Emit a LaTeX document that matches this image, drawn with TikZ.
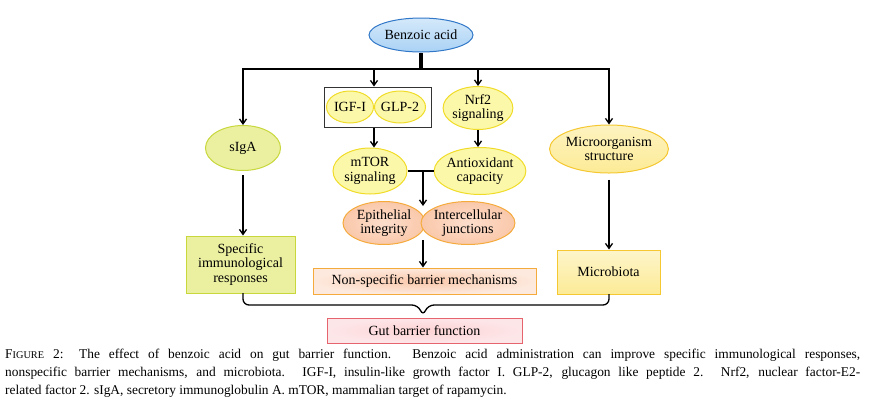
\documentclass[tikz,border=0pt]{standalone}
\usepackage{fontspec}
\setmainfont{Liberation Serif}
\usetikzlibrary{shapes.geometric,arrows.meta,decorations.pathreplacing}
\definecolor{yb}{RGB}{240,220,40}
\definecolor{yf}{RGB}{252,248,170}
\definecolor{gb}{RGB}{200,215,60}
\definecolor{gf}{RGB}{235,240,160}
\definecolor{ob}{RGB}{245,170,60}
\definecolor{of}{RGB}{250,200,170}
\definecolor{mb}{RGB}{245,200,50}
\definecolor{mf}{RGB}{252,235,150}
\definecolor{rb}{RGB}{230,100,110}
\definecolor{rf}{RGB}{250,205,210}
\definecolor{bb}{RGB}{50,120,200}
\definecolor{bf}{RGB}{170,210,245}
\begin{document}
\begin{tikzpicture}[x=1pt,y=-1pt,font=\fontsize{14}{14.5}\selectfont,
 el/.style={ellipse,draw=#1,line width=1pt,inner sep=-1pt,align=center},
 bx/.style={rectangle,draw=#1,line width=1pt,inner sep=0pt,align=center},
 ar/.style={-{Straight Barb[length=5pt,width=7pt]},line width=1.3pt},
 ln/.style={line width=1.3pt}]
\useasboundingbox (0,0) rectangle (879,416);
\node[el=bb,top color=bf!50,bottom color=bf,minimum width=104,minimum height=34] (ba) at (421,35) {Benzoic acid};
\node[el=gb,fill=gf,minimum width=75,minimum height=45] (sig) at (243,148) {sIgA};
\node[draw=black!80,line width=1pt,minimum width=107,minimum height=40,inner sep=0pt] (box) at (377.5,107) {};
\node[el=yb,fill=yf,minimum width=47,minimum height=32] (igf) at (350,107) {IGF-I};
\node[el=yb,fill=yf,minimum width=51,minimum height=32] (glp) at (400,107) {GLP-2};
\node[el=yb,fill=yf,minimum width=69,minimum height=43] (nrf) at (478,108) {Nrf2\\signaling};
\node[el=mb,top color=mf!60,bottom color=mf,minimum width=108,minimum height=48] (mic) at (609,149) {Microorganism\\structure};
\node[el=yb,fill=yf,minimum width=74,minimum height=46] (mtor) at (370,171) {mTOR\\signaling};
\node[el=yb,fill=yf,minimum width=83,minimum height=47] (anti) at (480,171) {Antioxidant\\capacity};
\node[el=ob,inner color=of!60,outer color=of,minimum width=82,minimum height=43] (epi) at (384,223) {Epithelial\\integrity};
\node[el=ob,inner color=of!60,outer color=of,minimum width=92,minimum height=43] (int) at (468,223) {Intercellular\\junctions};
\node[bx=gb,fill=gf,minimum width=109,minimum height=57] (spec) at (240.5,264.5) {Specific\\immunological\\responses};
\node[bx=ob,inner color=of,outer color=of!40,minimum width=223,minimum height=26] (non) at (424.5,281) {Non-specific barrier mechanisms};
\node[bx=mb,top color=mf!50,bottom color=mf,minimum width=103,minimum height=44] (mbio) at (608.5,272) {Microbiota};
\node[bx=rb,inner color=rf!70!red!40,outer color=rf!50,minimum width=195,minimum height=25] (gut) at (424.5,330.5) {Gut barrier function};
\coordinate (top) at (421,69);
\draw[line width=4pt] (ba.south) -- (top);
\draw[ln] (243,69) -- (609,69);
\draw[ar] (243,68.4) -- (sig.north);
\draw[ar] (609,68.4) -- (mic.north);
\draw[ar] (374,69) -- (box.north -| 374,0);
\draw[ar] (478,69) -- (nrf.north);
\draw[ar] (box.south -| 374,0) -- (mtor.north -| 374,0);
\draw[ar] (nrf.south) -- (anti.north -| 478,0);
\coordinate (j) at (423,170);
\draw[ln] (mtor.east) -- (anti.west);
\draw[ar] (j) -- (423,206);
\draw[ar] (423,240) -- (non.north -| 423,0);
\draw[ar] (sig.south) ++(0,4) -- (spec.north -| 243,0);
\draw[ar] (mic.south) ++(0,6) -- (mbio.north -| 609,0);
\draw[ln,rounded corners=6pt] (243,293) -- (243,305) -- (418,305) -- (423,316) -- (428,305) -- (609,305) -- (609,294);
\node[anchor=north west,inner sep=0pt,text width=855pt,align=justify,font=\fontsize{13.4}{18}\selectfont] (cap) at (5,349) {F{\fontsize{10.3}{10}\selectfont IGURE} 2: The effect of benzoic acid on gut barrier function. Benzoic acid administration can improve specific immunological responses,\linebreak nonspecific barrier mechanisms, and microbiota. IGF-I, insulin-like growth factor I. GLP-2, glucagon like peptide 2. Nrf2, nuclear factor-E2-\linebreak related factor 2. sIgA, secretory immunoglobulin A. mTOR, mammalian target of rapamycin.};
\end{tikzpicture}
\end{document}
